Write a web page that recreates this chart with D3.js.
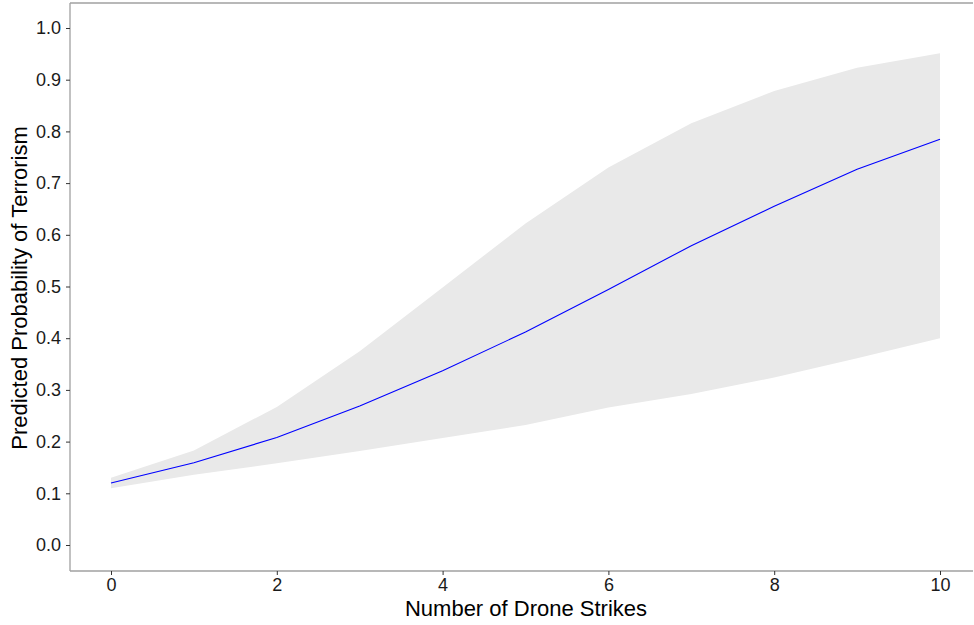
<!DOCTYPE html>
<html>
<head>
<meta charset="utf-8">
<script src="https://cdn.jsdelivr.net/npm/d3@7"></script>
<style>
  body { margin: 0; background: #fff; }
  svg text { font-family: "Liberation Sans", Arial, sans-serif; }
</style>
</head>
<body>
<div id="chart"></div>
<script>
// values
var strikes = [0, 1, 2, 3, 4, 5, 6, 7, 8, 9, 10];
var predicted = [0.120, 0.159, 0.208, 0.269, 0.337, 0.412, 0.494, 0.579, 0.655, 0.727, 0.785];
var upper = [0.130, 0.183, 0.267, 0.375, 0.498, 0.622, 0.730, 0.816, 0.878, 0.923, 0.951];
var lower = [0.110, 0.136, 0.158, 0.182, 0.207, 0.232, 0.266, 0.292, 0.324, 0.361, 0.400];
var yTicks = [0, 0.1, 0.2, 0.3, 0.4, 0.5, 0.6, 0.7, 0.8, 0.9, 1.0];
var xTicks = [0, 2, 4, 6, 8, 10];

var W = 974, H = 625;
var frame = {left: 70, top: 3, bottom: 571, right: 973};

var svg = d3.select("#chart").append("svg")
  .attr("width", W)
  .attr("height", H);

var x = d3.scaleLinear().domain([0, 10]).range([111, 940]);
var y = d3.scaleLinear().domain([0, 1]).range([545, 28]);

var rows = strikes.map(function(s, i) {
  return {s: s, p: predicted[i], lo: lower[i], hi: upper[i]};
});

// confidence band
var band = d3.area()
  .x(function(d) { return x(d.s); })
  .y0(function(d) { return y(d.lo); })
  .y1(function(d) { return y(d.hi); });

svg.append("path")
  .datum(rows)
  .attr("d", band)
  .attr("fill", "#e9e9e9");

// predicted line
var line = d3.line()
  .x(function(d) { return x(d.s); })
  .y(function(d) { return y(d.p); });

svg.append("path")
  .datum(rows)
  .attr("d", line)
  .attr("fill", "none")
  .attr("stroke", "#0000ff")
  .attr("stroke-width", 1.1);

// frame lines
var frameColor = "#a0a0a0";
svg.append("line")
  .attr("x1", frame.left).attr("x2", frame.left)
  .attr("y1", frame.top).attr("y2", frame.bottom)
  .attr("stroke", frameColor).attr("stroke-width", 1.3);
svg.append("line")
  .attr("x1", frame.left).attr("x2", frame.right)
  .attr("y1", frame.top).attr("y2", frame.top)
  .attr("stroke", frameColor).attr("stroke-width", 1.3);
svg.append("line")
  .attr("x1", frame.left).attr("x2", frame.right)
  .attr("y1", frame.bottom).attr("y2", frame.bottom)
  .attr("stroke", frameColor).attr("stroke-width", 1.3);

// axes
var yAxis = svg.append("g")
  .attr("transform", "translate(" + frame.left + ",0)")
  .call(d3.axisLeft(y).tickValues(yTicks).tickFormat(d3.format(".1f"))
    .tickSizeOuter(0).tickSizeInner(4).tickPadding(5));

var xAxis = svg.append("g")
  .attr("transform", "translate(0," + frame.bottom + ")")
  .call(d3.axisBottom(x).tickValues(xTicks).tickFormat(d3.format("d"))
    .tickSizeOuter(0).tickSizeInner(4).tickPadding(3));

svg.selectAll(".domain").remove();
svg.selectAll(".tick line").attr("stroke", "#333").attr("stroke-width", 1);
svg.selectAll(".tick text")
  .attr("fill", "#1a1a1a")
  .style("font-size", "18px");

// axis titles
svg.append("text")
  .attr("x", 526)
  .attr("y", 616)
  .attr("text-anchor", "middle")
  .attr("fill", "#000")
  .style("font-size", "22px")
  .text("Number of Drone Strikes");

svg.append("text")
  .attr("transform", "translate(27,288) rotate(-90)")
  .attr("text-anchor", "middle")
  .attr("fill", "#000")
  .style("font-size", "22px")
  .text("Predicted Probability of Terrorism");
</script>
</body>
</html>
